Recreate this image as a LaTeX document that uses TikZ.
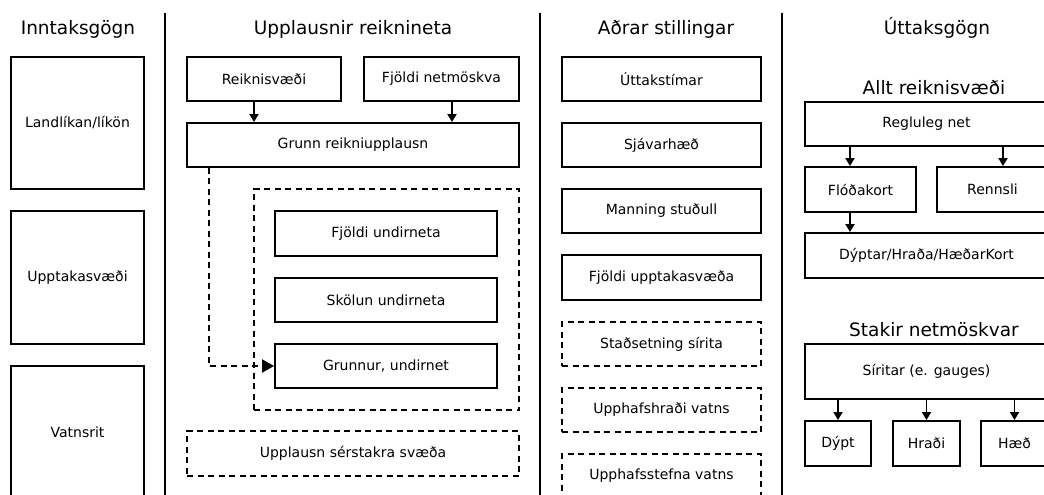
\documentclass[tikz,border=0pt]{standalone}
\usepackage{fontspec}
\setmainfont{DejaVu Sans}
\usetikzlibrary{arrows.meta}
\begin{document}
\begin{tikzpicture}[x=1pt,y=-1pt,
  box/.style={draw, line width=1.9pt, inner sep=0pt, align=center,
    font=\fontsize{14}{16}\selectfont},
  dbox/.style={box, dash pattern=on 6pt off 4.5pt},
  hdr/.style={anchor=base, inner sep=0pt, font=\fontsize{18.5}{22}\selectfont},
  divider/.style={line width=1.7pt},
  arr/.style={line width=1.9pt, -{Triangle[length=8pt,width=9pt]}},
  darr/.style={line width=1.9pt, dash pattern=on 6pt off 4.5pt,
    -{Triangle[length=12pt,width=13pt]}}]
\clip (0,0) rectangle (1044,495);
% dividers
\draw[divider] (165,13) -- (165,495);
\draw[divider] (540,13) -- (540,495);
\draw[divider] (782,13) -- (782,495);
% headers
\node[hdr] (h1) at (78,35) {Inntaksgögn};
\node[hdr] (h2) at (353,35) {Upplausnir reiknineta};
\node[hdr] (h3) at (666,35) {Aðrar stillingar};
\node[hdr] (h4) at (937,35) {Úttaksgögn};
\node[hdr] (h5) at (934,94) {Allt reiknisvæði};
\node[hdr] (h6) at (934,336) {Stakir netmöskvar};
% column 1
\node[box, minimum width=133pt, minimum height=132pt] (lk) at (77.5,123) {Landlíkan/líkön};
\node[box, minimum width=133pt, minimum height=133pt] (up) at (77.5,277.5) {Upptakasvæði};
\node[box, minimum width=133pt, minimum height=132pt] (vr) at (77.5,432) {Vatnsrit};
% column 2
\node[box, minimum width=154pt, minimum height=44pt] (rv) at (264,79) {Reiknisvæði};
\node[box, minimum width=155pt, minimum height=44pt] (fn) at (441.5,79) {Fjöldi netmöskva};
\node[box, minimum width=332pt, minimum height=44pt] (gr) at (353,145) {Grunn reikniupplausn};
\node[dbox, minimum width=265pt, minimum height=221pt] (cont) at (386.5,299.5) {};
\node[box, minimum width=222pt, minimum height=45pt] (fu) at (386,233.5) {Fjöldi undirneta};
\node[box, minimum width=222pt, minimum height=44pt] (sk) at (386,300) {Skölun undirneta};
\node[box, minimum width=222pt, minimum height=44pt] (gu) at (386,366) {Grunnur, undirnet};
\node[dbox, minimum width=332pt, minimum height=45pt] (us) at (353,453.5) {Upplausn sérstakra svæða};
\coordinate (ax1) at (254,0);
\coordinate (ax2) at (452,0);
\coordinate (dl) at (209,0);
\draw[arr] (rv.south -| ax1) -- (gr.north -| ax1);
\draw[arr] (fn.south -| ax2) -- (gr.north -| ax2);
\draw[darr] (gr.south -| dl) |- (gu.west);
% column 3
\node[box, minimum width=199pt, minimum height=44pt] (ut) at (661.5,79) {Úttakstímar};
\node[box, minimum width=199pt, minimum height=44pt] (sj) at (661.5,145) {Sjávarhæð};
\node[box, minimum width=199pt, minimum height=44pt] (ma) at (661.5,211) {Manning stuðull};
\node[box, minimum width=199pt, minimum height=45pt] (fj) at (661.5,277.5) {Fjöldi upptakasvæða};
\node[dbox, minimum width=199pt, minimum height=44pt] (st) at (661.5,344) {Staðsetning sírita};
\node[dbox, minimum width=199pt, minimum height=44pt] (uh) at (661.5,410) {Upphafshraði vatns};
\node[dbox, minimum width=199pt, minimum height=44pt] (uf) at (661.5,476) {Upphafsstefna vatns};
% column 4
\node[box, minimum width=243pt, minimum height=44pt] (rn) at (926.5,124) {Regluleg net};
\node[box, minimum width=111pt, minimum height=45pt] (fk) at (860.5,189.5) {Flóðakort};
\node[box, minimum width=111pt, minimum height=45pt] (re) at (992.5,189.5) {Rennsli};
\node[box, minimum width=243pt, minimum height=45pt] (dk) at (926.5,255.5) {Dýptar/Hraða/HæðarKort};
\node[box, minimum width=243pt, minimum height=55pt] (si) at (926.5,371.5) {Síritar (e. gauges)};
\node[box, minimum width=66pt, minimum height=45pt] (dy) at (838,443.5) {Dýpt};
\node[box, minimum width=67pt, minimum height=45pt] (hr) at (926.5,443.5) {Hraði};
\node[box, minimum width=67pt, minimum height=45pt] (he) at (1014.5,443.5) {Hæð};
\coordinate (ax3) at (850,0);
\coordinate (ax4) at (1003,0);
\draw[arr] (rn.south -| ax3) -- (fk.north -| ax3);
\draw[arr] (rn.south -| ax4) -- (re.north -| ax4);
\draw[arr] (fk.south -| ax3) -- (dk.north -| ax3);
\draw[arr] (si.south -| dy.north) -- (dy.north);
\draw[arr] (si.south -| hr.north) -- (hr.north);
\draw[arr] (si.south -| he.north) -- (he.north);
\end{tikzpicture}
\end{document}
